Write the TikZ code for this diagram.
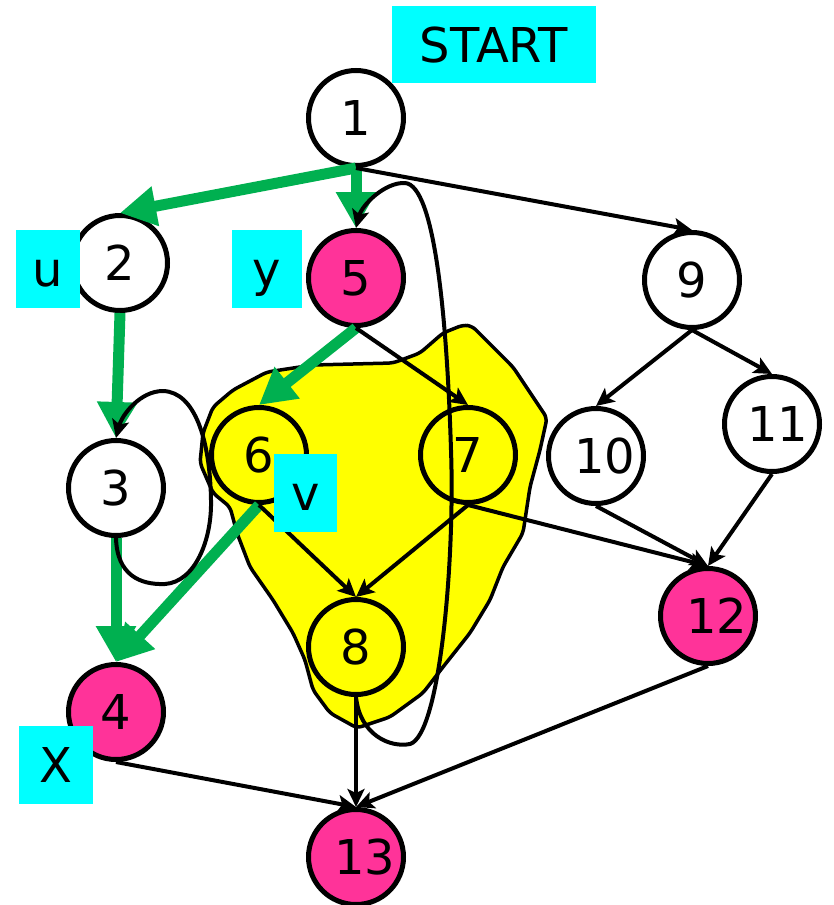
\documentclass[tikz,border=0pt]{standalone}
\usepackage{fontspec}
\setmainfont{DejaVu Sans}
\usetikzlibrary{arrows.meta}

\definecolor{treegreen}{HTML}{00B050}
\definecolor{hotpink}{HTML}{FF3399}
\definecolor{tagcyan}{HTML}{00FFFF}
\definecolor{zoneyellow}{HTML}{FFFF00}

\tikzset{
  vtx/.style={circle, draw=black, line width=5pt, minimum size=95pt,
    inner sep=0pt, fill=white, font=\fontsize{48}{52}\selectfont,
    text height=35pt, text depth=0pt},
  hotvtx/.style={vtx, fill=hotpink},
  zonevtx/.style={vtx, fill=zoneyellow},
  tagbox/.style={fill=tagcyan, inner sep=0pt, font=\fontsize{48}{52}\selectfont,
    text height=35pt, text depth=0pt},
  edge/.style={line width=4pt, -{Stealth[length=18pt,width=17pt,inset=4pt]}},
  treeedge/.style={draw=treegreen, line width=11pt,
    -{Triangle[length=36pt,width=38pt]}},
  zone/.style={fill=zoneyellow, draw=black, line width=3.5pt, rounded corners=5pt},
}

\begin{document}
\begin{tikzpicture}[x=1pt,y=-1pt]
  \useasboundingbox (0,0) rectangle (833,905);

  % highlighted region around 6, 7, 8
  \path[zone] (463,325) -- (472,326) -- (513,367) -- (547,418) -- (540,450)
    -- (530,487) -- (523,533) -- (503,567) -- (490,600) -- (470,633)
    -- (443,667) -- (423,693) -- (390,717) -- (357,728) -- (330,713)
    -- (313,690) -- (305,660) -- (293,633) -- (273,600) -- (250,567)
    -- (237,533) -- (230,507) -- (213,493) -- (200,463) -- (203,433)
    -- (213,407) -- (233,390) -- (267,372) -- (313,365) -- (393,363)
    -- (420,353) -- (443,333) -- cycle;

  % vertices
  \node[vtx]     (n1)  at (356,118) {1};
  \node[vtx]     (n2)  at (120,263) {2};
  \node[hotvtx]  (n5)  at (356,278) {5};
  \node[vtx]     (n9)  at (692,280) {9};
  \node[vtx]     (n3)  at (116,488) {3};
  \node[zonevtx] (n6)  at (259,455) {6};
  \node[zonevtx] (n7)  at (468,455) {7};
  \node[vtx]     (n10) at (596,456) {\hspace*{18pt}10};
  \node[vtx]     (n11) at (772,424) {\hspace*{12pt}11};
  \node[hotvtx]  (n12) at (708,616) {\hspace*{18pt}12};
  \node[hotvtx]  (n4)  at (116,712) {4};
  \node[zonevtx] (n8)  at (356,647) {8};
  \node[hotvtx]  (n13) at (356,857) {\hspace*{18pt}13};

  % tree edges
  \draw[treeedge] (n1.south) -- (n2.north);
  \draw[treeedge] (n1.south) -- (n5.north);
  \draw[treeedge] (n2.south) -- (n3.north);
  \draw[treeedge] (n3.south) -- (n4.north);
  \draw[treeedge] (n5.south) -- (n6.north);
  \draw[treeedge] (n6.south) -- (n4.north);

  % remaining edges
  \draw[edge] (n1.south) -- (n9.north);
  \draw[edge] (n5.south) -- (n7.north);
  \draw[edge] (n6.south) -- (n8.north);
  \draw[edge] (n7.south) -- (n8.north);
  \draw[edge] (n7.south) -- (n12.north);
  \draw[edge] (n9.south) -- (n10.north);
  \draw[edge] (n9.south) -- (n11.north);
  \draw[edge] (n10.south) -- (n12.north);
  \draw[edge] (n11.south) -- (n12.north);
  \draw[edge] (n12.south) -- (n13.north);
  \draw[edge] (n8.south) -- (n13.north);
  \draw[edge] (n4.south) -- (n13.north);

  % self loop on 3
  \draw[edge] (n3.south) .. controls (117,575) and (140,585) .. (165,584)
    .. controls (195,582) and (212,540) .. (211,500)
    .. controls (210,440) and (195,392) .. (163,391)
    .. controls (140,391) and (122,415) .. (n3.north);

  % back edge 8 -> 5
  \draw[edge] (n8.south) .. controls (360,735) and (390,748) .. (410,744)
    .. controls (440,735) and (455,560) .. (451,450)
    .. controls (447,320) and (435,185) .. (405,183)
    .. controls (385,182) and (362,205) .. (n5.north);

  % tags
  \node[tagbox, minimum width=204pt, minimum height=77pt] (tstart) at (494,44.5) {START};
  \node[tagbox, minimum width=64pt, minimum height=78pt] (tu) at (48,269) {u};
  \node[tagbox, minimum width=70pt, minimum height=78pt] (ty) at (267,269) {y};
  \node[tagbox, minimum width=63pt, minimum height=78pt] (tv) at (305.5,493) {v};
  \node[tagbox, minimum width=74pt, minimum height=78pt] (tx) at (56,765) {X};
\end{tikzpicture}
\end{document}
